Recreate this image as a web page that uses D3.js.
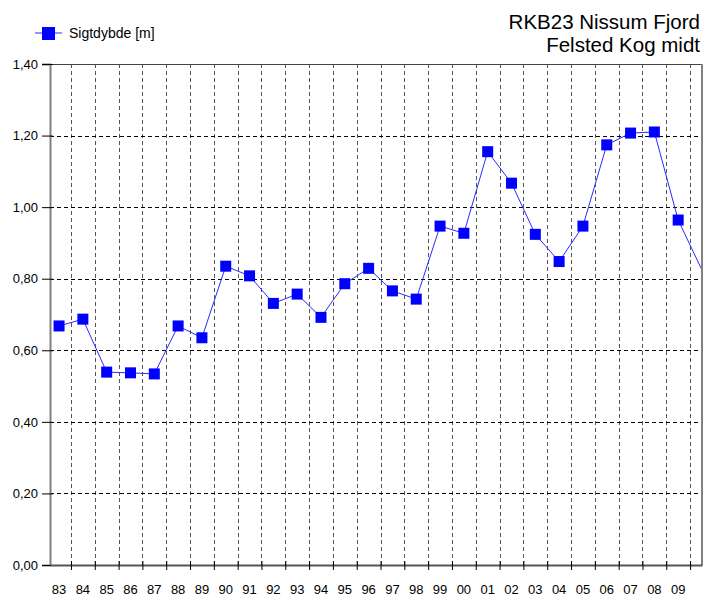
<!DOCTYPE html>
<html>
<head>
<meta charset="utf-8">
<script src="https://cdn.jsdelivr.net/npm/d3@7"></script>
<style>
  body { margin: 0; background: #fff; }
  svg { display: block; font-family: "Liberation Sans", Arial, sans-serif; }
</style>
</head>
<body>
<script>
// chart data
const years = ["83","84","85","86","87","88","89","90","91","92","93","94","95","96","97","98","99","00","01","02","03","04","05","06","07","08","09","10"];
const sigtdybde = [0.668,0.687,0.539,0.537,0.534,0.668,0.635,0.835,0.808,0.731,0.757,0.692,0.786,0.829,0.766,0.743,0.947,0.927,1.155,1.067,0.924,0.848,0.947,1.174,1.207,1.210,0.964,0.824];
const yTicks = [0, 0.2, 0.4, 0.6, 0.8, 1.0, 1.2, 1.4];
const titleLines = ["RKB23 Nissum Fjord", "Felsted Kog midt"];
const legendLabel = "Sigtdybde [m]";

const W = 704, H = 596;
const plot = { left: 50, right: 702, top: 64, bottom: 565 };
const shown = 27; // years visible on the axis (83..09)

const svg = d3.select("body").append("svg")
    .attr("width", W)
    .attr("height", H);

const x = d3.scaleLinear()
  .domain([-0.38, shown])
  .range([plot.left, plot.right]);

const y = d3.scaleLinear()
  .domain([0, 1.4])
  .range([plot.bottom, plot.top]);

const fmt = v => d3.format(".2f")(v).replace(".", ",");

// clip for the plot area
svg.append("defs").append("clipPath")
  .attr("id", "plotclip")
  .append("rect")
  .attr("x", plot.left)
  .attr("y", plot.top - 8)
  .attr("width", plot.right - plot.left - 1)
  .attr("height", plot.bottom - plot.top + 16);

// vertical grid (between years)
const bounds = d3.range(shown).map(i => i + 0.5);
svg.append("g")
  .selectAll("line")
  .data(bounds)
  .enter().append("line")
  .attr("x1", d => Math.round(x(d)) + 0.5)
  .attr("x2", d => Math.round(x(d)) + 0.5)
  .attr("y1", plot.top)
  .attr("y2", plot.bottom)
  .attr("stroke", "#555")
  .attr("stroke-dasharray", "4,3");

// horizontal grid
svg.append("g")
  .selectAll("line")
  .data(yTicks.slice(1, -1))
  .enter().append("line")
  .attr("x1", plot.left)
  .attr("x2", plot.right)
  .attr("y1", d => Math.round(y(d)) + 0.5)
  .attr("y2", d => Math.round(y(d)) + 0.5)
  .attr("stroke", "#000")
  .attr("stroke-dasharray", "4,3");

// frame
svg.append("line")
  .attr("x1", plot.left).attr("x2", plot.right)
  .attr("y1", plot.top + 0.5).attr("y2", plot.top + 0.5)
  .attr("stroke", "#444");
svg.append("line")
  .attr("x1", plot.right).attr("x2", plot.right)
  .attr("y1", plot.top).attr("y2", plot.bottom)
  .attr("stroke", "#808080").attr("stroke-width", 2);

// y axis
const yAxis = d3.axisLeft(y)
  .tickValues(yTicks)
  .tickFormat(fmt)
  .tickSize(8)
  .tickPadding(4);

const gy = svg.append("g")
  .attr("transform", `translate(${plot.left},0)`)
  .call(yAxis);
gy.select(".domain").attr("stroke", "#808080").attr("stroke-width", 2);
gy.selectAll(".tick line").attr("stroke", "#000").attr("x2", 3).attr("x1", -8);
gy.selectAll("text").attr("font-size", 13).attr("fill", "#000");

// x axis: ticks at boundaries, labels at the years
const gx = svg.append("g")
  .attr("transform", `translate(0,${plot.bottom})`)
  .call(d3.axisBottom(x).tickValues(bounds).tickFormat("").tickSize(5).tickSizeOuter(0));
gx.select(".domain").attr("stroke", "#555").attr("stroke-width", 2);
gx.selectAll(".tick line").attr("stroke", "#000").attr("y1", -4);

svg.append("g")
  .selectAll("text")
  .data(years.slice(0, shown))
  .enter().append("text")
  .attr("x", (d, i) => x(i))
  .attr("y", plot.bottom + 29)
  .attr("text-anchor", "middle")
  .attr("font-size", 13)
  .text(d => d);

// series
const pts = sigtdybde.map((v, i) => ({ i, v }));
const line = d3.line().x(d => x(d.i)).y(d => y(d.v));

const series = svg.append("g").attr("clip-path", "url(#plotclip)");
series.append("path")
  .datum(pts)
  .attr("d", line)
  .attr("fill", "none")
  .attr("stroke", "#2a2aff")
  .attr("stroke-width", 1);

series.selectAll("rect")
  .data(pts.filter(d => d.i < shown))
  .enter().append("rect")
  .attr("x", d => x(d.i) - 5.5)
  .attr("y", d => y(d.v) - 5.5)
  .attr("width", 11)
  .attr("height", 11)
  .attr("fill", "#0000ff");

// legend
const lg = svg.append("g").attr("transform", "translate(35,33)");
lg.append("line").attr("x1", 0).attr("x2", 27).attr("y1", 0).attr("y2", 0)
  .attr("stroke", "#2a2aff");
lg.append("rect").attr("x", 7).attr("y", -6).attr("width", 13).attr("height", 13)
  .attr("fill", "#0000ff");
lg.append("text").attr("x", 34).attr("y", 5).attr("font-size", 14).text(legendLabel);

// title
svg.append("g")
  .selectAll("text")
  .data(titleLines)
  .enter().append("text")
  .attr("x", 700)
  .attr("y", (d, i) => 29 + i * 23)
  .attr("text-anchor", "end")
  .attr("font-size", 20.5)
  .text(d => d);
</script>
</body>
</html>
